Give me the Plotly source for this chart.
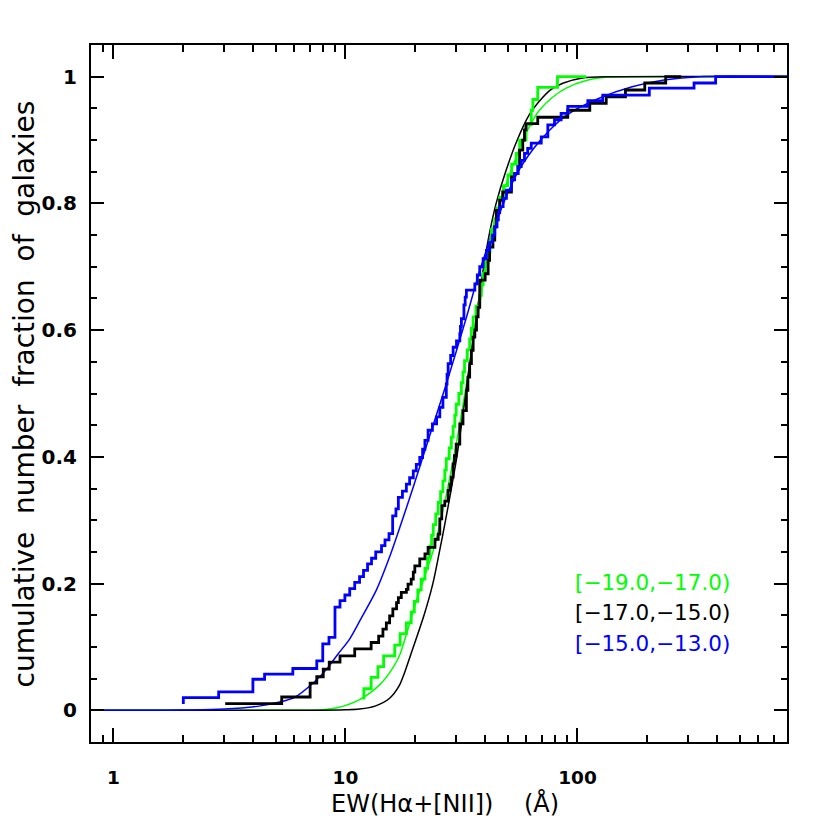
import numpy as np
import plotly.graph_objects as go

# cumulative distributions of EW(Ha+[NII]) in three magnitude bins
# step curves (EW where the level changes, cumulative fraction after the step)
ew_green = [12.0, 12.0, 12.9, 13.8, 14.6, 16.3, 17.2, 18.3, 19.2, 19.8, 20.5, 21.2, 22.0, 22.6,
            23.1, 23.5, 23.9, 24.5, 25.1, 25.7, 26.3, 26.8, 27.2, 28.0, 28.6, 29.1, 29.6, 30.0,
            30.8, 31.6, 32.1, 32.6, 33.5, 34.3, 34.9, 35.5, 36.5, 37.9, 38.5, 39.2, 40.0, 41.2,
            42.0, 42.6, 44.0, 45.0, 46.2, 48.0, 50.1, 52.0, 54.5, 56.3, 60.0, 63.2, 64.2, 67.4,
            82.0, 109.0]
frac_green = [0.017, 0.034, 0.052, 0.069, 0.086, 0.103, 0.121, 0.138, 0.155, 0.172, 0.190, 0.207,
              0.224, 0.241, 0.259, 0.276, 0.293, 0.310, 0.328, 0.345, 0.362, 0.379, 0.397, 0.414,
              0.431, 0.448, 0.466, 0.483, 0.500, 0.517, 0.534, 0.552, 0.569, 0.586, 0.603, 0.621,
              0.638, 0.655, 0.672, 0.690, 0.707, 0.724, 0.741, 0.759, 0.776, 0.793, 0.810, 0.828,
              0.845, 0.862, 0.879, 0.900, 0.924, 0.947, 0.964, 0.983, 1.0, 1.0]

ew_black = [3.03, 5.31, 7.04, 7.52, 8.02, 8.51, 9.47, 10.96, 12.9, 13.9, 14.5, 15.0, 15.5, 16.0,
            16.6, 16.9, 17.4, 18.3, 18.6, 19.2, 19.6, 19.9, 20.9, 22.0, 22.7, 24.3, 25.1, 25.5,
            26.0, 26.8, 27.7, 28.2, 28.6, 29.1, 29.5, 30.0, 31.1, 32.1, 33.2, 33.7, 34.3, 34.9,
            35.5, 36.1, 36.7, 37.3, 37.9, 40.0, 41.2, 41.8, 43.2, 44.0, 44.7, 46.2, 47.6, 51.9,
            53.5, 55.4, 56.3, 58.1, 59.1, 60.0, 67.4, 90.8, 113.0, 133.0, 161.0, 195.0, 240.0,
            280.0]
frac_black = [0.0106, 0.021, 0.043, 0.053, 0.065, 0.076, 0.086, 0.097, 0.107, 0.117, 0.128,
              0.138, 0.149, 0.160, 0.170, 0.178, 0.186, 0.191, 0.199, 0.207, 0.218, 0.228, 0.239,
              0.247, 0.257, 0.270, 0.278, 0.302, 0.323, 0.330, 0.347, 0.357, 0.368, 0.389, 0.402,
              0.420, 0.452, 0.473, 0.505, 0.526, 0.547, 0.568, 0.589, 0.600, 0.621, 0.636, 0.679,
              0.689, 0.710, 0.731, 0.742, 0.763, 0.789, 0.805, 0.818, 0.842, 0.847, 0.858, 0.884,
              0.900, 0.916, 0.926, 0.936, 0.947, 0.958, 0.968, 0.979, 0.990, 1.0, 1.0]

ew_blue = [2.0, 2.0, 2.84, 3.99, 4.48, 5.93, 7.52, 7.98, 8.49, 9.01, 9.47, 9.94, 10.43, 10.96,
           11.5, 11.96, 12.45, 12.95, 13.5, 14.3, 14.8, 15.4, 15.97, 16.5, 16.9, 17.6, 18.3, 18.9,
           19.6, 20.2, 20.9, 21.5, 22.0, 22.7, 23.7, 24.7, 25.5, 26.3, 27.2, 27.4, 27.7, 28.4,
           29.1, 30.1, 31.1, 31.3, 31.6, 32.4, 32.8, 33.2, 36.1, 37.0, 37.9, 39.2, 40.5, 41.8,
           43.0, 44.0, 45.0, 45.6, 46.2, 47.8, 49.4, 51.9, 53.6, 55.4, 57.2, 59.1, 61.0, 63.2,
           69.8, 74.5, 79.6, 85.0, 90.8, 110.8, 128.5, 204.0, 318.0, 394.0, 800.0]
frac_blue = [0.010, 0.020, 0.029, 0.049, 0.057, 0.066, 0.078, 0.105, 0.115, 0.163, 0.173, 0.182,
             0.192, 0.202, 0.211, 0.221, 0.231, 0.240, 0.250, 0.260, 0.269, 0.279, 0.307, 0.318,
             0.336, 0.346, 0.357, 0.367, 0.378, 0.388, 0.399, 0.412, 0.426, 0.442, 0.452, 0.463,
             0.478, 0.494, 0.515, 0.530, 0.547, 0.560, 0.573, 0.583, 0.594, 0.606, 0.618, 0.640,
             0.652, 0.663, 0.673, 0.687, 0.700, 0.713, 0.726, 0.739, 0.750, 0.763, 0.774, 0.785,
             0.795, 0.808, 0.821, 0.837, 0.847, 0.858, 0.868, 0.879, 0.887, 0.895, 0.905, 0.924,
             0.932, 0.942, 0.953, 0.962, 0.971, 0.982, 0.990, 1.0, 1.0]

# smooth fitted curves, sampled off the figure
fit_ew_green = [0.8, 5.0, 8.0, 9.2, 11.5, 14.1, 16.0, 17.2, 20.2, 23.9, 26.3, 29.1, 31.1, 33.2,
                35.5, 37.9, 40.0, 41.8, 47.6, 51.2, 56.3, 62.0, 68.5, 78.3, 89.4, 109.0, 133.0,
                180.0, 800.0]
fit_green = [0.0, 0.0, 0.001, 0.004, 0.017, 0.041, 0.067, 0.089, 0.173, 0.252, 0.315, 0.394,
             0.452, 0.515, 0.579, 0.642, 0.694, 0.740, 0.815, 0.847, 0.887, 0.921, 0.947, 0.968,
             0.982, 0.994, 0.999, 1.0, 1.0]

fit_ew_black = [0.8, 7.0, 10.0, 11.5, 13.5, 15.5, 17.0, 18.0, 19.2, 21.8, 23.8, 25.4, 27.0, 28.6,
                30.2, 31.6, 33.0, 34.4, 36.0, 37.6, 39.4, 41.6, 44.6, 49.0, 55.0, 62.0, 68.0,
                77.0, 87.0, 105.0, 140.0, 800.0]
fit_black = [0.0, 0.0, 0.0008, 0.002, 0.007, 0.019, 0.038, 0.060, 0.090, 0.150, 0.200, 0.250,
             0.300, 0.350, 0.400, 0.450, 0.500, 0.550, 0.600, 0.650, 0.700, 0.750, 0.800, 0.850,
             0.900, 0.940, 0.960, 0.980, 0.990, 0.998, 1.0, 1.0]

fit_ew_blue = [0.8, 1.5, 2.0, 3.0, 4.3, 5.2, 6.0, 7.3, 8.3, 9.2, 10.4, 11.6, 13.6, 15.6, 17.2,
               19.5, 22.0, 27.2, 33.2, 38.0, 46.2, 54.5, 64.2, 75.6, 89.4, 124.0, 172.0, 240.0,
               334.0, 800.0]
fit_blue = [0.0, 0.0, 0.0005, 0.002, 0.007, 0.013, 0.020, 0.044, 0.065, 0.087, 0.112, 0.143,
            0.190, 0.245, 0.290, 0.350, 0.410, 0.515, 0.620, 0.695, 0.785, 0.845, 0.885, 0.915,
            0.939, 0.966, 0.984, 0.995, 1.0, 1.0]

bins = ["[\u221219.0,\u221217.0)", "[\u221217.0,\u221215.0)", "[\u221215.0,\u221213.0)"]
colors = ["#00ff00", "#000000", "#0000ff"]

fig = go.Figure()

fits = [(fit_ew_green, fit_green), (fit_ew_black, fit_black), (fit_ew_blue, fit_blue)]
steps = [(ew_green, frac_green), (ew_black, frac_black), (ew_blue, frac_blue)]

for (fx, fy), c in zip(fits, colors):
    fig.add_trace(go.Scatter(x=fx, y=fy, mode="lines", line=dict(color=c, width=1.5, shape="spline", smoothing=0.8),
                             showlegend=False, hoverinfo="skip"))
for (sx, sy), c in zip(steps, colors):
    fig.add_trace(go.Scatter(x=sx, y=sy, mode="lines", line=dict(color=c, width=2.8, shape="hv"),
                             showlegend=False, hoverinfo="skip"))

# bin labels
for i, (txt, c) in enumerate(zip(bins, colors)):
    fig.add_annotation(x=0.692, y=0.229 - i * 0.0435, xref="paper", yref="paper", text=txt,
                       showarrow=False, xanchor="left", yanchor="middle",
                       font=dict(family="DejaVu Sans", size=21.5, color=c))

minor_x = [0.8, 0.9] + [k * d for d in (1, 10, 100) for k in range(2, 10)]
minor_x = [v for v in minor_x if v <= 800]

fig.update_xaxes(type="log", range=[np.log10(0.8), np.log10(800)],
                 tickvals=[1, 10, 100], ticktext=["1", "10", "100"],
                 ticks="inside", ticklen=14, tickwidth=2, tickcolor="black",
                 minor=dict(tickvals=minor_x, ticks="inside", ticklen=7, tickwidth=2, tickcolor="black"),
                 showline=True, linewidth=2, linecolor="black", mirror="allticks",
                 showgrid=False, zeroline=False, ticklabelstandoff=18,
                 tickfont=dict(family="DejaVu Sans", size=18.5, color="black", weight="bold"))
fig.update_yaxes(range=[-0.05, 1.05], tickvals=[0, 0.2, 0.4, 0.6, 0.8, 1],
                 ticktext=["0", "0.2", "0.4", "0.6", "0.8", "1"],
                 ticks="inside", ticklen=13, tickwidth=2, tickcolor="black",
                 minor=dict(dtick=0.05, ticks="inside", ticklen=6, tickwidth=2, tickcolor="black"),
                 showline=True, linewidth=2, linecolor="black", mirror="allticks",
                 showgrid=False, zeroline=False, ticklabelstandoff=8,
                 tickfont=dict(family="DejaVu Sans", size=20, color="black", weight="bold"))

sp = "\u00a0"
fig.add_annotation(x=0.508, y=-0.088, xref="paper", yref="paper",
                   text="EW(H\u03b1+[NII])" + sp * 4 + "(\u00c5)", showarrow=False,
                   xanchor="center", yanchor="middle",
                   font=dict(family="DejaVu Sans", size=24, color="black"))
fig.add_annotation(x=-0.095, y=0.5, xref="paper", yref="paper", textangle=-90,
                   text=(sp * 2).join(["cumulative", "number", "fraction", "of", "galaxies"]),
                   showarrow=False, xanchor="center", yanchor="middle",
                   font=dict(family="DejaVu Sans", size=28, color="black"))

# the page body adds an 8px offset, so the figure is 822px with margins shifted to match
fig.update_layout(width=822, height=822, margin=dict(l=83, r=43, t=37, b=88),
                  plot_bgcolor="white", paper_bgcolor="white")

fig.write_html("out.html")
